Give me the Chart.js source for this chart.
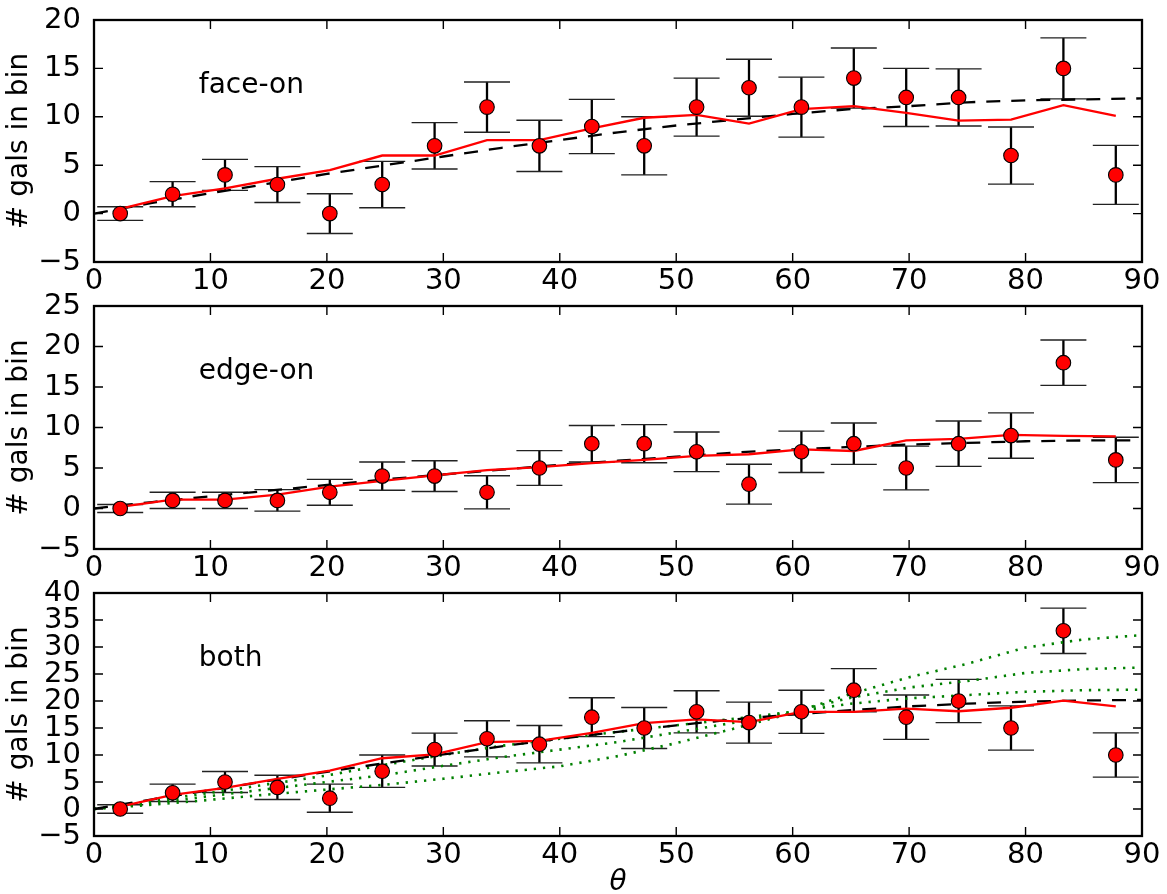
<!DOCTYPE html>
<html><head><meta charset="utf-8">
<script src="https://cdn.jsdelivr.net/npm/chart.js@4/dist/chart.umd.min.js"></script>
<style>
html,body{margin:0;padding:0;background:#fff;}
body{width:1167px;height:894px;position:relative;overflow:hidden;}
canvas{position:absolute;left:0;}
</style></head><body>
<canvas id="c1" width="1167" height="312" style="top:-14px;width:1167px;height:312px"></canvas>
<canvas id="c2" width="1167" height="313" style="top:272px;width:1167px;height:313px"></canvas>
<canvas id="c3" width="1167" height="335" style="top:559px;width:1167px;height:335px"></canvas>
<script>
// ---------- data ----------
const binCenters = [2.25, 6.75, 11.25, 15.75, 20.25, 24.75, 29.25, 33.75, 38.25, 42.75,
                    47.25, 51.75, 56.25, 60.75, 65.25, 69.75, 74.25, 78.75, 83.25, 87.75];
const xTicksLabels = [0, 10, 20, 30, 40, 50, 60, 70, 80, 90];
const curveX = [0, 5, 10, 15, 20, 25, 30, 35, 40, 45, 50, 55, 60, 65, 70, 75, 80, 85, 90];

// face-on
const faceCounts = [0, 2, 4, 3, 0, 3, 7, 11, 7, 9, 7, 11, 13, 11, 14, 12, 12, 6, 15, 4];
const faceErr    = [0.7, 1.3, 1.6, 1.85, 2.05, 2.4, 2.4, 2.6, 2.65, 2.8, 3.0, 3.0, 2.95, 3.1, 3.1, 3.0, 2.95, 2.95, 3.15, 3.05];
const faceModel  = [0.5, 1.8, 2.6, 3.6, 4.5, 6.0, 6.0, 7.6, 7.6, 8.8, 9.9, 10.2, 9.3, 10.8, 11.1, 10.4, 9.6, 9.7, 11.2, 10.1];
const faceDashed = [0.0, 1.1, 2.1, 3.1, 4.1, 5.0, 5.9, 6.8, 7.6, 8.4, 9.1, 9.7, 10.3, 10.8, 11.1, 11.5, 11.7, 11.8, 11.9];

// edge-on
const edgeCounts = [0, 1, 1, 1, 2, 4, 4, 2, 5, 8, 8, 7, 3, 7, 8, 5, 8, 9, 18, 6];
const edgeErr    = [0.5, 1.0, 1.0, 1.33, 1.6, 1.75, 1.9, 2.05, 2.15, 2.25, 2.35, 2.45, 2.46, 2.55, 2.55, 2.7, 2.8, 2.8, 2.8, 2.8];
const edgeModel  = [0.2, 1.1, 1.1, 1.7, 2.7, 3.4, 4.1, 4.75, 5.1, 5.6, 6.0, 6.5, 6.7, 7.3, 7.1, 8.4, 8.6, 9.1, 8.96, 8.9];
const edgeDashed = [0.0, 0.8, 1.5, 2.2, 2.9, 3.6, 4.2, 4.8, 5.4, 5.9, 6.4, 6.9, 7.3, 7.6, 7.9, 8.1, 8.3, 8.4, 8.4];

// both
const bothCounts = [0, 3, 5, 4, 2, 7, 11, 13, 12, 17, 15, 18, 16, 18, 22, 17, 20, 15, 33, 10];
const bothErr    = [0.8, 1.6, 1.95, 2.25, 2.6, 3.0, 3.05, 3.35, 3.45, 3.6, 3.8, 3.9, 3.8, 4.0, 4.0, 4.1, 4.0, 4.1, 4.2, 4.1];
const bothModel  = [0.45, 2.6, 3.9, 5.6, 7.1, 9.4, 10.1, 12.4, 12.6, 14.1, 15.9, 16.6, 16.1, 18.0, 18.0, 18.6, 18.1, 18.75, 20.06, 19.0];
const bothDashed = [0.0, 1.8, 3.5, 5.2, 6.9, 8.5, 10.1, 11.6, 13.0, 14.3, 15.5, 16.6, 17.5, 18.3, 19.0, 19.5, 19.9, 20.1, 20.2];
const greenA     = [0.0, 1.5, 3.0, 4.6, 6.2, 8.2, 10.0, 11.7, 13.0, 14.3, 15.5, 16.7, 18.0, 19.5, 20.5, 21.1, 21.7, 22.0, 22.1];
const greenB     = [0.0, 1.1, 2.4, 3.7, 5.0, 6.3, 8.0, 9.6, 11.0, 12.4, 14.2, 16.0, 18.0, 20.6, 22.5, 23.7, 25.2, 25.9, 26.2];
const greenC     = [0.0, 0.8, 1.7, 2.7, 3.6, 4.5, 5.6, 6.8, 7.9, 9.8, 12.2, 14.9, 17.8, 21.3, 24.4, 26.9, 29.9, 31.4, 32.2];

// ---------- drawing ----------
const FAM = "'DejaVu Sans', sans-serif";
const TICK_SIZE = 29;
const toXY = (xs, ys) => xs.map((x, i) => ({x: x, y: ys[i]}));

function panelPlugin(label, counts, errs) {
  return {
    id: 'panel',
    beforeDatasetsDraw(chart) {
      const ctx = chart.ctx, xs = chart.scales.x, ys = chart.scales.y;
      ctx.save();
      for (let i = 0; i < counts.length; i++) {
        const px = xs.getPixelForValue(binCenters[i]);
        const yt = ys.getPixelForValue(counts[i] + errs[i]);
        const yb = ys.getPixelForValue(counts[i] - errs[i]);
        ctx.strokeStyle = '#000'; ctx.lineWidth = 2.3;
        ctx.beginPath(); ctx.moveTo(px, yt); ctx.lineTo(px, yb); ctx.stroke();
        ctx.strokeStyle = '#222'; ctx.lineWidth = 1.4;
        ctx.beginPath();
        ctx.moveTo(px - 23, yt); ctx.lineTo(px + 23, yt);
        ctx.moveTo(px - 23, yb); ctx.lineTo(px + 23, yb);
        ctx.stroke();
      }
      ctx.restore();
    },
    afterDraw(chart) {
      const ctx = chart.ctx, xs = chart.scales.x, ys = chart.scales.y, a = chart.chartArea;
      ctx.save();
      ctx.strokeStyle = '#000'; ctx.lineWidth = 1.4;
      ctx.beginPath();
      xs.ticks.forEach(t => {
        const px = xs.getPixelForValue(t.value);
        ctx.moveTo(px, a.bottom); ctx.lineTo(px, a.bottom - 9);
        ctx.moveTo(px, a.top); ctx.lineTo(px, a.top + 9);
      });
      ys.ticks.forEach(t => {
        const py = ys.getPixelForValue(t.value);
        ctx.moveTo(a.left, py); ctx.lineTo(a.left + 9, py);
        ctx.moveTo(a.right, py); ctx.lineTo(a.right - 9, py);
      });
      ctx.stroke();
      ctx.lineWidth = 2.3;
      ctx.strokeRect(a.left, a.top, a.right - a.left, a.bottom - a.top);
      ctx.fillStyle = '#000';
      ctx.font = '28px ' + FAM;
      ctx.textBaseline = 'alphabetic'; ctx.textAlign = 'left';
      const w = a.right - a.left, h = a.bottom - a.top;
      ctx.fillText(label, a.left + 0.1 * w, a.bottom - 0.7 * h);
      ctx.restore();
    }
  };
}

function makePanel(id, opt) {
  const datasets = [
    {type: 'scatter', data: toXY(binCenters, opt.counts), pointRadius: 7.3, pointHoverRadius: 7.3,
     pointBackgroundColor: '#ff0000', pointBorderColor: '#000', pointBorderWidth: 1.1, showLine: false, order: 0},
    {type: 'line', data: toXY(binCenters, opt.model), borderColor: '#ff0000', borderWidth: 2.3,
     pointRadius: 0, fill: false, tension: 0, order: 2},
    {type: 'line', data: toXY(curveX, opt.dashed), borderColor: '#000', borderWidth: 2.3, borderDash: [14, 11],
     pointRadius: 0, fill: false, tension: 0, order: 3}
  ];
  (opt.greens || []).forEach(g => datasets.push(
    {type: 'line', data: toXY(curveX, g), borderColor: '#008000', borderWidth: 2.6, borderDash: [2.3, 6.9],
     pointRadius: 0, fill: false, tension: 0, order: 4}));
  return new Chart(document.getElementById(id), {
    type: 'scatter',
    data: {datasets: datasets},
    options: {
      responsive: false, animation: false, devicePixelRatio: 1,
      layout: {padding: {left: 0, right: 25, top: 34, bottom: 0}},
      plugins: {legend: {display: false}, tooltip: {enabled: false}},
      scales: {
        x: {type: 'linear', min: 0, max: 90,
            afterBuildTicks: s => { s.ticks = xTicksLabels.map(v => ({value: v})); },
            ticks: {font: {family: FAM, size: TICK_SIZE}, color: '#000', padding: 2, maxRotation: 0, autoSkip: false},
            grid: {display: false, drawTicks: false}, border: {display: false},
            title: {display: !!opt.xTitle, text: opt.xTitle || '', color: '#000',
                    font: {family: FAM, size: 28, style: 'italic', lineHeight: 0.78}, padding: {top: 0, bottom: 0}},
            afterFit: s => { s.height = opt.xHeight; }},
        y: {type: 'linear', min: opt.yMin, max: opt.yMax,
            ticks: {stepSize: 5, autoSkip: false, font: {family: FAM, size: TICK_SIZE}, color: '#000', padding: 13,
                    callback: v => (v < 0 ? '\u2212' + Math.abs(v) : String(v))},
            grid: {display: false, drawTicks: false}, border: {display: false},
            title: {display: true, text: '# gals in bin', color: '#000', font: {family: FAM, size: 28},
                    padding: {top: 3, bottom: 0}},
            afterFit: s => { s.width = 94; }}
      }
    },
    plugins: [panelPlugin(opt.label, opt.counts, opt.errs)]
  });
}

makePanel('c1', {counts: faceCounts, errs: faceErr, model: faceModel, dashed: faceDashed,
  yMin: -5, yMax: 20, label: 'face-on', xHeight: 36});
makePanel('c2', {counts: edgeCounts, errs: edgeErr, model: edgeModel, dashed: edgeDashed,
  yMin: -5, yMax: 25, label: 'edge-on', xHeight: 36});
makePanel('c3', {counts: bothCounts, errs: bothErr, model: bothModel, dashed: bothDashed,
  greens: [greenA, greenB, greenC], yMin: -5, yMax: 40, label: 'both', xHeight: 58, xTitle: '\u03b8'});
</script>
</body></html>
